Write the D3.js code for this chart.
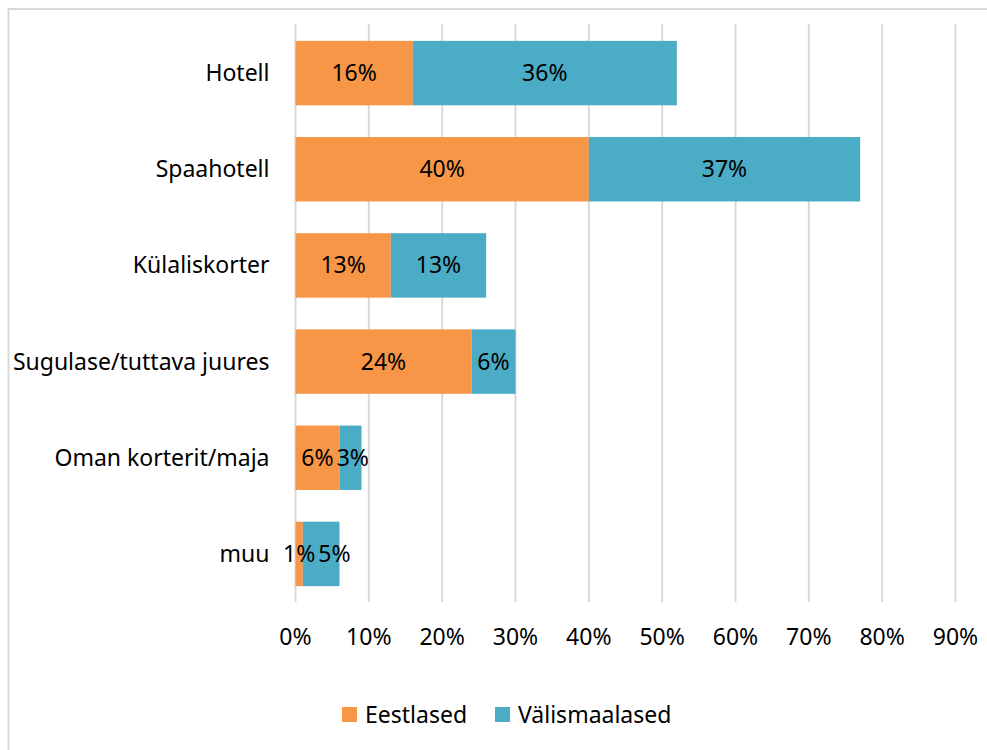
<!DOCTYPE html>
<html>
<head>
<meta charset="utf-8">
<script src="https://cdn.jsdelivr.net/npm/d3@7"></script>
<style>
  body { margin: 0; background: #fff; }
  svg text { font-family: "Noto Sans", "Open Sans", sans-serif; fill: #000; }
</style>
</head>
<body>
<div id="chart"></div>
<script>
// data
const categories = ["Hotell", "Spaahotell", "Külaliskorter", "Sugulase/tuttava juures", "Oman korterit/maja", "muu"];
const eestlased = [16, 40, 13, 24, 6, 1];
const valismaalased = [36, 37, 13, 6, 3, 5];
const seriesNames = ["Eestlased", "Välismaalased"];
const seriesColors = ["#F79646", "#4BACC6"];
const xTicks = [0, 10, 20, 30, 40, 50, 60, 70, 80, 90];

const width = 987, height = 750;
const plot = {left: 295.5, right: 955.5, top: 24, bottom: 602};
const fs = 23;

const svg = d3.select("#chart").append("svg")
    .attr("width", width)
    .attr("height", height);

// chart frame
svg.append("rect")
    .attr("x", 8.5).attr("y", 9)
    .attr("width", 1000).attr("height", 800)
    .attr("fill", "none")
    .attr("stroke", "#D9D9D9")
    .attr("stroke-width", 2);

const x = d3.scaleLinear().domain([0, 90]).range([plot.left, plot.right]);
const y = d3.scaleBand().domain(categories).range([plot.top + 1, plot.bottom]).paddingInner(0.33).paddingOuter(0.165);

// gridlines
svg.append("g")
    .selectAll("line")
    .data(xTicks)
    .join("line")
        .attr("x1", d => x(d)).attr("x2", d => x(d))
        .attr("y1", plot.top).attr("y2", plot.bottom)
        .attr("stroke", "#D9D9D9")
        .attr("stroke-width", 2);

// stack
const rows = categories.map((c, i) => ({cat: c, Eestlased: eestlased[i], "Välismaalased": valismaalased[i]}));
const stacked = d3.stack().keys(seriesNames)(rows);

const layer = svg.append("g")
    .selectAll("g")
    .data(stacked)
    .join("g")
        .attr("fill", (d, i) => seriesColors[i]);

layer.selectAll("rect")
    .data(d => d)
    .join("rect")
        .attr("x", d => x(d[0]))
        .attr("width", d => x(d[1]) - x(d[0]))
        .attr("y", d => y(d.data.cat))
        .attr("height", y.bandwidth());

const labels = svg.append("g")
    .selectAll("text")
    .data(stacked.flatMap((s, k) => s.map(d => ({k: k, cat: d.data.cat, x0: d[0], x1: d[1]}))))
    .join("text")
        .attr("x", d => (x(d.x0) + x(d.x1)) / 2)
        .attr("y", d => y(d.cat) + y.bandwidth() / 2)
        .attr("dy", "0.35em")
        .attr("text-anchor", "middle")
        .attr("font-size", fs)
        .text(d => (d.x1 - d.x0) + "%");

// nudge a label to the right when it runs into the one before it
categories.forEach(c => {
    const pair = labels.filter(d => d.cat == c).nodes();
    const a = pair[0].getBBox(), b = pair[1].getBBox();
    if (b.x < a.x + a.width + 3) {
        const shift = a.x + a.width + 3 - b.x;
        d3.select(pair[1]).attr("x", +d3.select(pair[1]).attr("x") + shift);
    }
});

// category labels
svg.append("g")
    .selectAll("text")
    .data(categories)
    .join("text")
        .attr("x", plot.left - 26)
        .attr("y", d => y(d) + y.bandwidth() / 2)
        .attr("dy", "0.35em")
        .attr("text-anchor", "end")
        .attr("font-size", fs)
        .text(d => d);

// x tick labels
svg.append("g")
    .selectAll("text")
    .data(xTicks)
    .join("text")
        .attr("x", d => x(d))
        .attr("y", 637)
        .attr("dy", "0.35em")
        .attr("text-anchor", "middle")
        .attr("font-size", fs)
        .text(d => d + "%");

// legend
const legendX = [342, 495];
const legend = svg.append("g")
    .selectAll("g")
    .data(seriesNames)
    .join("g")
        .attr("transform", (d, i) => `translate(${legendX[i]},707)`);

legend.append("rect")
    .attr("width", 15).attr("height", 15)
    .attr("fill", (d, i) => seriesColors[i]);

legend.append("text")
    .attr("x", 23).attr("y", 7.5)
    .attr("dy", "0.35em")
    .attr("font-size", fs)
    .text(d => d);
</script>
</body>
</html>
